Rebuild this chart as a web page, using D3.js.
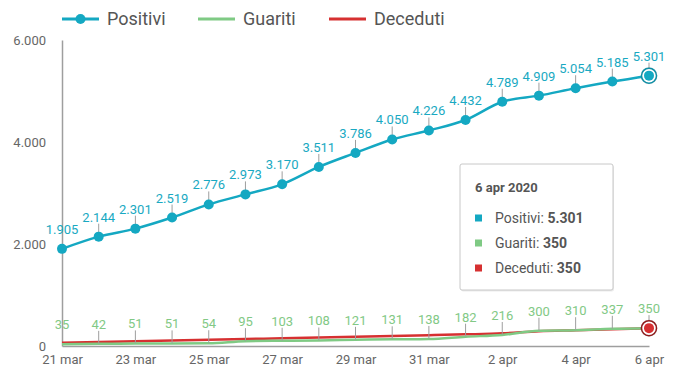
<!DOCTYPE html>
<html>
<head>
<meta charset="utf-8" />
<title>Positivi, Guariti, Deceduti</title>
<style>
body { margin: 0; background: #fff; font-family: Roboto, "Noto Sans", sans-serif; }
.axis path, .axis line { stroke: #9e9e9e; }
.axis text { fill: #666; font-size: 13px; font-family: Roboto, sans-serif; }
.lbl { font-size: 13px; font-family: Roboto, sans-serif; text-anchor: middle; }
</style>
</head>
<body>
<svg width="675" height="378"></svg>
<script src="https://d3js.org/d3.v7.min.js"></script>
<script>

// dati 21 mar - 6 apr 2020
var days = ["21 mar","22 mar","23 mar","24 mar","25 mar","26 mar","27 mar","28 mar","29 mar",
            "30 mar","31 mar","1 apr","2 apr","3 apr","4 apr","5 apr","6 apr"];
var positivi = [1905,2144,2301,2519,2776,2973,3170,3511,3786,4050,4226,4432,4789,4909,5054,5185,5301];
var guariti  = [35,42,51,51,54,95,103,108,121,131,138,182,216,300,310,337,350];
var deceduti = [65,80,94,108,122,137,152,167,182,197,212,228,248,290,310,330,350];
var yTicks = [0,2000,4000,6000];
var seriesNames = ["Positivi","Guariti","Deceduti"];
var colors = ["#14a8c2","#7fca84","#d63031"];

var svg = d3.select("svg"),
    margin = {top: 40, right: 26, bottom: 32, left: 62},
    width = +svg.attr("width") - margin.left - margin.right,
    height = +svg.attr("height") - margin.top - margin.bottom;

var fmt = function(v) { return d3.format(",")(v).replace(/,/g, "."); };

var x = d3.scalePoint().domain(days).range([0, width]),
    y = d3.scaleLinear().domain([0, 6000]).range([height, 0]);

var g = svg.append("g")
    .attr("transform", "translate(" + margin.left + "," + margin.top + ")");

// assi
g.append("g")
    .attr("class", "axis axis--x")
    .attr("transform", "translate(0," + height + ")")
    .call(d3.axisBottom(x).tickValues(days.filter(function(d, i) { return i % 2 == 0; })).tickSize(0).tickPadding(9))
  .select(".domain").attr("stroke-width", 1.5);

g.append("g")
    .attr("class", "axis axis--y")
    .call(d3.axisLeft(y).tickValues(yTicks).tickFormat(fmt).tickSize(0).tickPadding(16))
  .select(".domain").attr("stroke-width", 1.5);

var series = [positivi, guariti, deceduti];

var line = d3.line()
    .x(function(d, i) { return x(days[i]); })
    .y(function(d) { return y(d); })
    .curve(d3.curveMonotoneX);

// linee (deceduti, guariti, positivi)
[2, 1, 0].forEach(function(k) {
  g.append("path")
      .datum(series[k])
      .attr("fill", "none")
      .attr("stroke", colors[k])
      .attr("stroke-width", k == 0 ? 2.5 : 2.5)
      .attr("d", line);
});

// etichette con piccoli segmenti grigi
[0, 1].forEach(function(k) {
  var s = series[k];
  s.forEach(function(v, i) {
    var px = x(days[i]), py = y(v);
    if (i > 0) {
      g.append("line")
          .attr("x1", px).attr("x2", px)
          .attr("y1", py).attr("y2", py - 13)
          .attr("stroke", "#9e9e9e").attr("stroke-width", 1);
    }
    g.append("text")
        .attr("class", "lbl")
        .attr("x", px)
        .attr("y", py - 15)
        .attr("fill", k == 0 ? "#19a9c2" : "#82c985")
        .text(fmt(v));
  });
});

// punti positivi
g.selectAll(".dot")
  .data(positivi.slice(0, -1))
  .enter().append("circle")
    .attr("class", "dot")
    .attr("cx", function(d, i) { return x(days[i]); })
    .attr("cy", function(d) { return y(d); })
    .attr("r", 5)
    .attr("fill", colors[0]);

// marker evidenziati sull'ultimo giorno
var last = days.length - 1;
[[0, "#0d8ea5"], [2, "#8e1c1c"]].forEach(function(m) {
  var k = m[0], cx = x(days[last]), cy = y(series[k][last]);
  g.append("circle").attr("cx", cx).attr("cy", cy).attr("r", 8.5).attr("fill", "rgba(0,0,0,0.12)");
  g.append("circle").attr("cx", cx).attr("cy", cy).attr("r", 7.5).attr("fill", "#fff").attr("stroke", m[1]).attr("stroke-width", 1.5);
  g.append("circle").attr("cx", cx).attr("cy", cy).attr("r", 5).attr("fill", colors[k]);
});

// legenda
var legX = [62, 198, 329];
seriesNames.forEach(function(name, k) {
  var lg = svg.append("g").attr("transform", "translate(" + legX[k] + ",19)");
  lg.append("line").attr("x1", 0).attr("x2", 37).attr("stroke", colors[k]).attr("stroke-width", 3);
  if (k == 0) lg.append("circle").attr("cx", 18.5).attr("r", 5).attr("fill", colors[k]);
  lg.append("text").attr("x", 45).attr("dy", "0.35em")
      .attr("fill", "#555").style("font-size", "18px").text(name);
});

// tooltip
var tip = svg.append("g").attr("transform", "translate(460,164)");
tip.append("rect").attr("x", 1).attr("y", 1.5).attr("width", 153).attr("height", 126)
    .attr("fill", "rgba(0,0,0,0.08)").attr("rx", 2);
tip.append("rect").attr("width", 153).attr("height", 126).attr("rx", 2)
    .attr("fill", "#fff").attr("stroke", "#c8c8c8").attr("stroke-width", 1);
tip.append("text").attr("x", 15).attr("y", 28)
    .attr("fill", "#555").style("font-size", "13px").style("font-weight", "bold")
    .text(days[last] + " 2020");
seriesNames.forEach(function(name, k) {
  var ry = 54 + k * 25;
  tip.append("rect").attr("x", 15).attr("y", ry - 3.5).attr("width", 7).attr("height", 7).attr("fill", colors[k]);
  var t = tip.append("text").attr("x", 35).attr("y", ry).attr("dy", "0.35em")
      .attr("fill", "#555").style("font-size", "14px");
  t.append("tspan").text(name + ": ");
  t.append("tspan").style("font-weight", "bold").text(fmt(series[k][last]));
});

</script>
</body>
</html>
